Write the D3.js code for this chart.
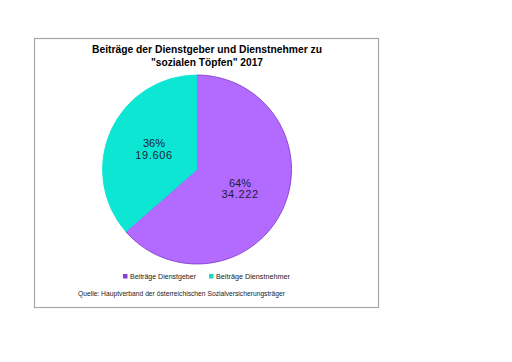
<!DOCTYPE html>
<html>
<head>
<meta charset="utf-8">
<script src="https://cdn.jsdelivr.net/npm/d3@7"></script>
<style>
  body { margin: 0; background: #fff; }
  svg { display: block; }
</style>
</head>
<body>
<div id="chart"></div>
<script>
// Datos del grafico
const categorias = ['Beiträge Dienstgeber', 'Beiträge Dienstnehmer'];
const valores = [34222, 19606];
const etiquetasValor = ['34.222', '19.606'];
const colores = ['#b36bff', '#0ce6d3'];
const titulo = ['Beiträge der Dienstgeber und Dienstnehmer zu', '"sozialen Töpfen" 2017'];
const fuente = 'Quelle: Hauptverband der österreichischen Sozialversicherungsträger';

const width = 512;
const height = 362;

const svg = d3.select('#chart')
  .append('svg')
  .attr('width', width)
  .attr('height', height);

// marco del grafico
svg.append('rect')
  .attr('x', 34.5)
  .attr('y', 38.5)
  .attr('width', 344)
  .attr('height', 269)
  .attr('fill', '#fff')
  .attr('stroke', '#a6a6a6')
  .attr('stroke-width', 1.2);

// titulo
svg.append('g')
  .selectAll('text')
  .data(titulo)
  .enter()
  .append('text')
  .attr('x', 207)
  .attr('y', (d, i) => 52.5 + i * 13.4)
  .attr('text-anchor', 'middle')
  .attr('font-family', 'Liberation Sans, Arial, sans-serif')
  .attr('font-weight', 'bold')
  .attr('font-size', 10)
  .attr('textLength', (d, i) => i === 0 ? 230 : 112)
  .attr('lengthAdjust', 'spacingAndGlyphs')
  .text(d => d);

// tarta
const cx = 197;
const cy = 169.5;
const radio = 94.5;
const total = d3.sum(valores);

const pie = d3.pie().sort(null).value(d => d);
const arc = d3.arc().innerRadius(0).outerRadius(radio);
const arcLabel = d3.arc().innerRadius(radio / 2).outerRadius(radio / 2);

const g = svg.append('g').attr('transform', `translate(${cx},${cy})`);
const slices = g.selectAll('.slice')
  .data(pie(valores))
  .enter()
  .append('g')
  .attr('class', 'slice');

slices.append('path')
  .attr('d', arc)
  .attr('fill', (d, i) => colores[i])
  .attr('stroke', (d, i) => i === 0 ? '#7b35c4' : colores[i])
  .attr('stroke-width', 0.8);

const etiquetas = slices.append('text')
  .attr('transform', d => `translate(${arcLabel.centroid(d)})`)
  .attr('text-anchor', 'middle')
  .attr('font-family', 'Liberation Sans, Arial, sans-serif')
  .attr('font-size', 11)
  .attr('fill', '#1e1b3a');

etiquetas.append('tspan')
  .attr('x', 0)
  .attr('y', -2.5)
  .text(d => Math.round(d.value / total * 100) + '%');

etiquetas.append('tspan')
  .attr('x', 0)
  .attr('y', 9)
  .attr('letter-spacing', 0.6)
  .text((d, i) => etiquetasValor[i]);

// leyenda
const leyendaX = [123, 209];
const leyenda = svg.append('g')
  .selectAll('g')
  .data(categorias)
  .enter()
  .append('g')
  .attr('transform', (d, i) => `translate(${leyendaX[i]},279)`);

leyenda.append('rect')
  .attr('x', 0)
  .attr('y', -5)
  .attr('width', 4.5)
  .attr('height', 4.5)
  .attr('fill', (d, i) => i === 0 ? '#8a3fd8' : '#18d8c6');

leyenda.append('text')
  .attr('x', 7)
  .attr('y', 0)
  .attr('font-family', 'Liberation Sans, Arial, sans-serif')
  .attr('font-size', 8)
  .attr('fill', '#222')
  .attr('textLength', (d, i) => i === 0 ? 66 : 74)
  .attr('lengthAdjust', 'spacingAndGlyphs')
  .text(d => d);

// fuente
svg.append('text')
  .attr('x', 78)
  .attr('y', 295.5)
  .attr('font-family', 'Liberation Sans, Arial, sans-serif')
  .attr('font-size', 7)
  .attr('fill', '#222')
  .attr('textLength', 207)
  .attr('lengthAdjust', 'spacingAndGlyphs')
  .text(fuente);
</script>
</body>
</html>
